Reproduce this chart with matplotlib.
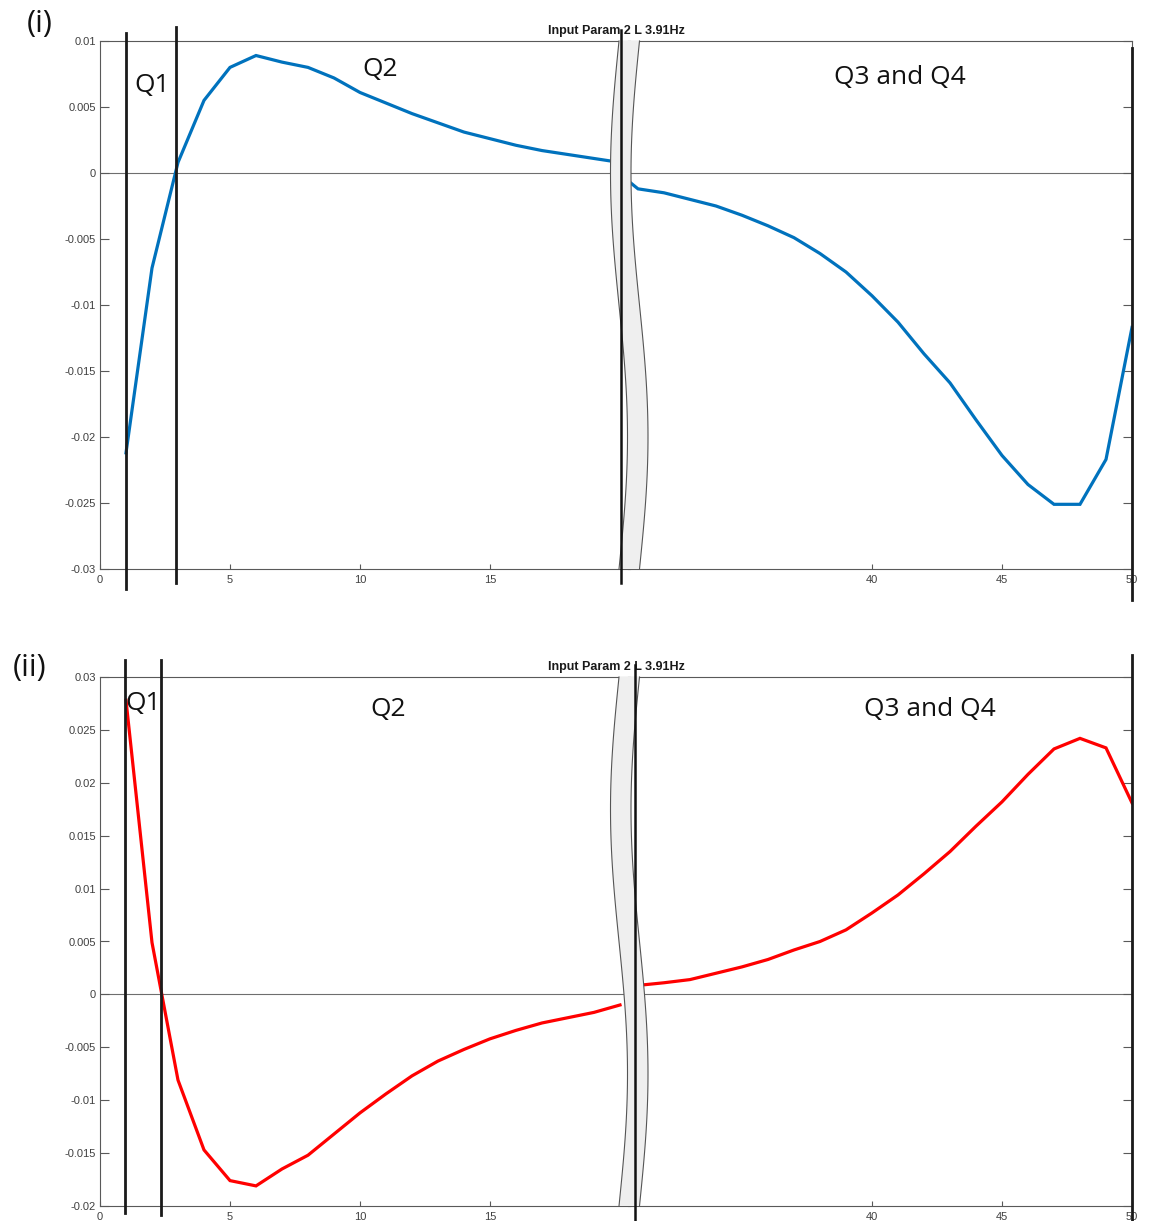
"""
Two stacked response curves with a broken x-axis (20 .. 31 cut out).
"""

import numpy as np
import matplotlib.pyplot as plt
from matplotlib.lines import Line2D
from matplotlib.patches import Polygon
from matplotlib.ticker import FuncFormatter, MultipleLocator

# =============================================================================
# DATA
# =============================================================================
# left segment (x = 1..20) and right segment (x = 30..50)
x_left = list(range(1, 21))
x_right = list(range(30, 51))

# panel (i) - blue
y1_left = [-0.0212, -0.0072, 0.0008, 0.0055, 0.0080, 0.0089, 0.0084, 0.0080,
           0.0072, 0.0061, 0.0053, 0.0045, 0.0038, 0.0031, 0.0026, 0.0021,
           0.0017, 0.0014, 0.0011, 0.0008]
y1_right = [0.0004, -0.0012, -0.0015, -0.0020, -0.0025, -0.0032, -0.0040,
            -0.0049, -0.0061, -0.0075, -0.0093, -0.0113, -0.0137, -0.0159,
            -0.0187, -0.0214, -0.0236, -0.0251, -0.0251, -0.0217, -0.0117]

# panel (ii) - red
y2_left = [0.0278, 0.0049, -0.0081, -0.0147, -0.0176, -0.0181, -0.0165,
           -0.0152, -0.0132, -0.0112, -0.0094, -0.0077, -0.0063, -0.0052,
           -0.0042, -0.0034, -0.0027, -0.0022, -0.0017, -0.0010]
y2_right = [0.0007, 0.00085, 0.0011, 0.0014, 0.0020, 0.0026, 0.0033, 0.0042,
            0.0050, 0.0061, 0.0077, 0.0094, 0.0114, 0.0135, 0.0159, 0.0182,
            0.0208, 0.0232, 0.0242, 0.0233, 0.0181]

# quarter boundaries (x positions of the black vertical markers)
q_bounds_i = [1.0, 2.92]
q_bounds_ii = [0.96, 2.35]

TITLE = "Input Param 2 L 3.91Hz"

# =============================================================================
# STYLE / LAYOUT (figure pixels)
# =============================================================================
W, H = 1150, 1221
C_BLUE, C_RED = '#0072BD', '#FF0000'
C_FRAME, C_TICK = '#595959', '#404040'
TICK_FONT = 'Liberation Sans'
LABEL_FONT = 'Open Sans'

X0, X_LEFT_END, X_RIGHT_START, X1 = 100, 630, 628, 1132
PX_PER_UNIT = 26.0


def fx(px):
    return px / W


def fy(py):
    return 1 - py / H


def style_axes(ax, side):
    ax.set_facecolor('none')
    for name, sp in ax.spines.items():
        sp.set_color(C_FRAME)
        sp.set_linewidth(0.8)
    ax.spines['right' if side == 'left' else 'left'].set_visible(False)
    ax.tick_params(axis='both', direction='in', colors=C_FRAME,
                   labelcolor=C_TICK, labelsize=8)
    ax.tick_params(axis='y', length=6.5, width=0.8, pad=3)
    ax.tick_params(axis='x', length=3.5, width=0.8, pad=4)
    ax.yaxis.set_major_locator(MultipleLocator(0.005))
    ax.yaxis.set_major_formatter(FuncFormatter(
        lambda v, _: '0' if abs(v) < 1e-12 else f'{v:g}'))
    if side == 'left':
        ax.yaxis.set_ticks_position('left')
    else:
        ax.yaxis.set_ticks_position('right')
        ax.tick_params(axis='y', labelright=False, labelleft=False)
    ax.xaxis.set_ticks_position('bottom')
    for lab in ax.get_xticklabels() + ax.get_yticklabels():
        lab.set_fontfamily(TICK_FONT)
    ax.axhline(0, color='#6e6e6e', lw=0.8, zorder=1)


def draw_break(fig, top, bottom, line_x):
    """Wavy grey band hiding the junction, plus the black marker line."""
    ys = np.linspace(top, bottom, 80)
    t = (ys - top) / (bottom - top)
    c = 629 - 8.5 * np.sin(2 * np.pi * t)
    left = np.column_stack([fx(c - 10), fy(ys)])
    right = np.column_stack([fx(c + 10.5), fy(ys)])
    band = Polygon(np.vstack([left, right[::-1]]), closed=True,
                   facecolor='#efefef', edgecolor='none',
                   transform=fig.transFigure, zorder=5)
    fig.add_artist(band)
    for edge in (left, right):
        fig.add_artist(Line2D(edge[:, 0], edge[:, 1], color='#555555', lw=0.8,
                              transform=fig.transFigure, zorder=6))
    fig.add_artist(Line2D([fx(line_x[0]), fx(line_x[0])],
                          [fy(line_x[1]), fy(line_x[2])], color='#111111',
                          lw=1.8, transform=fig.transFigure, zorder=7))


def draw_panel(fig, top, bottom, ylim, xl, yl, xr, yr, color, qb, q_ext,
               end_ext, break_line, tag, tag_pos, q_labels):
    h = (bottom - top) / H
    axl = fig.add_axes([fx(X0), fy(bottom), fx(X_LEFT_END) - fx(X0), h])
    axr = fig.add_axes([fx(X_RIGHT_START), fy(bottom),
                        fx(X1) - fx(X_RIGHT_START), h])
    axl.set_xlim(0, (X_LEFT_END - X0) / PX_PER_UNIT)
    axr.set_xlim(50 - (X1 - X_RIGHT_START) / PX_PER_UNIT, 50)
    for ax in (axl, axr):
        ax.set_ylim(*ylim)
    axl.set_xticks([0, 5, 10, 15])
    axr.set_xticks([40, 45, 50])
    style_axes(axl, 'left')
    style_axes(axr, 'right')

    axl.plot(xl, yl, color=color, lw=2.3, zorder=3, solid_joinstyle='miter')
    axr.plot(xr, yr, color=color, lw=2.3, zorder=3, solid_joinstyle='miter')

    # quarter boundaries
    for xq, (lo, hi) in zip(qb, q_ext):
        axl.axvline(xq, ymin=lo, ymax=hi, color='#1a1a1a', lw=2.0,
                    clip_on=False, zorder=4)
    axr.axvline(50, ymin=end_ext[0], ymax=end_ext[1], color='#1a1a1a', lw=2.0,
                clip_on=False, zorder=4)

    draw_break(fig, top, bottom, break_line)

    fig.text(fx(616), fy(top - 10), TITLE, ha='center', va='center',
             fontsize=9, fontweight='bold', family=TICK_FONT, color='#1a1a1a')
    fig.text(fx(tag_pos[0]), fy(tag_pos[1]), tag, ha='center', va='center',
             fontsize=22, family=LABEL_FONT, color='#111111')
    for txt, (px, py) in q_labels:
        fig.text(fx(px), fy(py), txt, ha='center', va='center', fontsize=19,
                 family=LABEL_FONT, color='#111111')


def main():
    fig = plt.figure(figsize=(W / 100, H / 100), dpi=100)

    draw_panel(fig, 41, 569, (-0.03, 0.01), x_left, y1_left, x_right, y1_right,
               C_BLUE, q_bounds_i, [(-0.038, 1.015), (-0.027, 1.027)],
               (-0.059, 0.987), (621, 30, 583), '(i)', (40, 24),
               [('Q1', (152, 85)), ('Q2', (380, 70)), ('Q3 and Q4', (900, 78))])

    draw_panel(fig, 677, 1206, (-0.02, 0.03), x_left, y2_left, x_right, y2_right,
               C_RED, q_bounds_ii, [(-0.013, 1.032), (-0.017, 1.032)],
               (-0.028, 1.042), (635, 665, 1220), '(ii)', (30, 668),
               [('Q1', (143, 703)), ('Q2', (388, 710)), ('Q3 and Q4', (930, 709))])

    fig.savefig('out.png', dpi=100)
    plt.close(fig)


if __name__ == '__main__':
    main()
